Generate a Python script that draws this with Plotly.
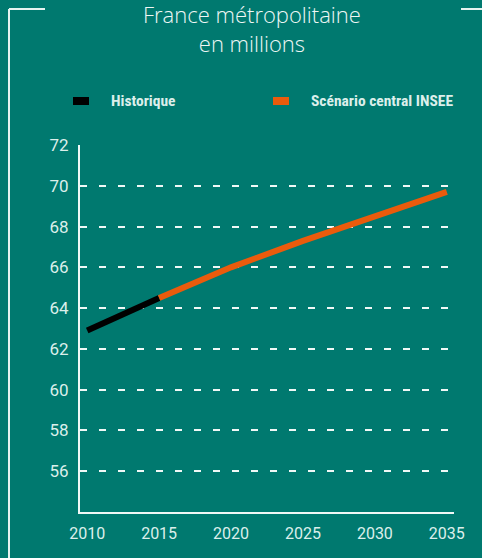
import plotly.graph_objects as go

# Data
hist_years = [2010, 2015]
hist_values = [62.9, 64.5]
scen_years = [2015, 2020, 2025, 2030, 2035]
scen_values = [64.5, 66.0, 67.3, 68.5, 69.7]
x_ticks = [2010, 2015, 2020, 2025, 2030, 2035]
y_ticks = [56, 58, 60, 62, 64, 66, 68, 70, 72]
legend_labels = ["Historique", "Scénario central INSEE"]
title_text = "France métropolitaine<br>en millions"

BG = "#00796F"
TXT = "#dcefeb"
ORANGE = "#EA5B0C"
W, H = 482, 558
L, R, T, B = 80, 28, 145, 46
PW, PH = W - L - R, H - T - B


def px(x):
    return (x - L) / PW


def py(y):
    return (H - B - y) / PH


fig = go.Figure()
fig.add_trace(go.Scatter(x=hist_years, y=hist_values, mode="lines",
                         line=dict(color="#000000", width=6), showlegend=False,
                         name=legend_labels[0]))
fig.add_trace(go.Scatter(x=scen_years, y=scen_values, mode="lines",
                         line=dict(color=ORANGE, width=6), showlegend=False,
                         name=legend_labels[1]))

shapes = []
frame = "#e6f3f0"
# frame lines
shapes.append(dict(type="line", xref="paper", yref="paper", x0=px(9), x1=px(9), y0=py(9), y1=py(560),
                   line=dict(color=frame, width=2)))
shapes.append(dict(type="line", xref="paper", yref="paper", x0=px(9), x1=px(45), y0=py(9), y1=py(9),
                   line=dict(color=frame, width=2)))
shapes.append(dict(type="line", xref="paper", yref="paper", x0=px(461), x1=px(484), y0=py(9), y1=py(9),
                   line=dict(color=frame, width=2)))
# legend swatches
shapes.append(dict(type="rect", xref="paper", yref="paper", x0=px(73), x1=px(89), y0=py(105), y1=py(97),
                   fillcolor="#000000", line=dict(width=0)))
shapes.append(dict(type="rect", xref="paper", yref="paper", x0=px(273), x1=px(289), y0=py(105), y1=py(97),
                   fillcolor=ORANGE, line=dict(width=0)))

leg_font = dict(family="Roboto Condensed, Roboto", size=15.5, color=TXT, weight="bold")
annotations = [
    dict(text=title_text, xref="paper", yref="paper", x=px(252), y=py(-3), xanchor="center", yanchor="top",
         showarrow=False, font=dict(family="Open Sans", size=22, color="#eef7f5", weight=300)),
    dict(text=legend_labels[0], xref="paper", yref="paper", x=px(109), y=py(101), xanchor="left",
         yanchor="middle", showarrow=False, font=leg_font),
    dict(text=legend_labels[1], xref="paper", yref="paper", x=px(309), y=py(101), xanchor="left",
         yanchor="middle", showarrow=False, font=leg_font),
]

fig.update_layout(
    width=W, height=H,
    margin=dict(l=L, r=R, t=T, b=B),
    paper_bgcolor=BG, plot_bgcolor=BG,
    shapes=shapes, annotations=annotations,
    showlegend=False,
    font=dict(family="Roboto", color=TXT, size=16),
)
fig.update_xaxes(range=[2009.5, 2035.5], tickvals=x_ticks, showgrid=False, zeroline=False,
                 showline=True, linecolor="#f0f8f6", linewidth=2, ticks="", ticklabelstandoff=6,
                 tickfont=dict(size=16, color=TXT))
fig.update_yaxes(range=[54, 72], tickvals=y_ticks, showgrid=True, gridcolor="#f0f8f6", gridwidth=1.5,
                 griddash="7px,12px", zeroline=False, showline=True, linecolor="#f0f8f6", linewidth=2,
                 ticks="", ticklabelstandoff=6, tickfont=dict(size=17, color=TXT))

fig.write_html("out.html", config={"displayModeBar": False},
               post_script="document.body.style.margin='0';document.body.style.background='" + BG + "';")
